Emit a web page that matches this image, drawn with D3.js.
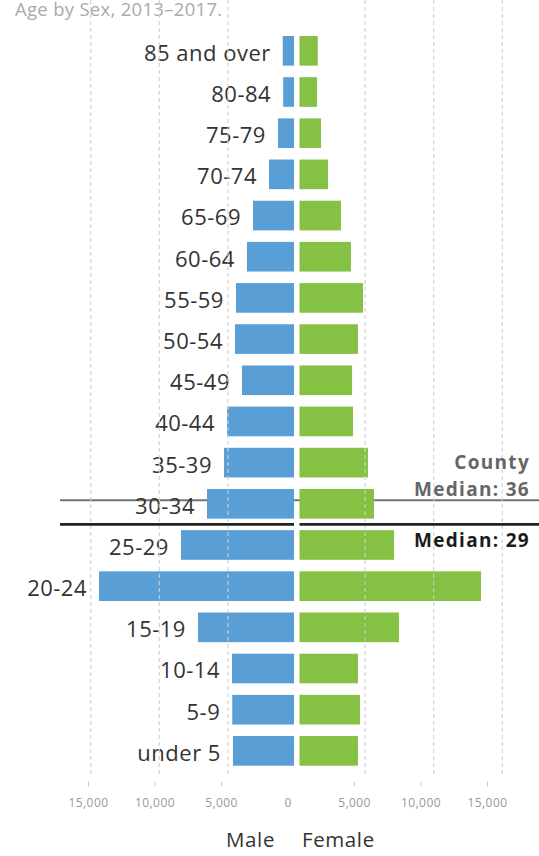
<!DOCTYPE html>
<html>
<head>
<meta charset="utf-8">
<script src="https://cdn.jsdelivr.net/npm/d3@7"></script>
<style>
  body { margin: 0; background: #fff; }
  svg { display: block; font-family: "Open Sans", sans-serif; }
</style>
</head>
<body>
<div id="chart"></div>
<script>
// Age groups, top to bottom
const ageGroups = ["85 and over", "80-84", "75-79", "70-74", "65-69", "60-64", "55-59",
  "50-54", "45-49", "40-44", "35-39", "30-34", "25-29", "20-24", "15-19",
  "10-14", "5-9", "under 5"];

const maleValues = [820, 790, 1170, 1820, 2990, 3430, 4230, 4300, 3790, 4880,
  5100, 6340, 8240, 14210, 7000, 4520, 4500, 4450];

const femaleValues = [1330, 1280, 1570, 2080, 3020, 3750, 4630, 4260, 3830, 3900,
  4990, 5430, 6890, 13230, 7250, 4260, 4410, 4260];

const tickValues = [-15000, -10000, -5000, 0, 5000, 10000, 15000];
const gridValues = [-15000, -10000, -5000, 5000, 10000, 15000];

const medianLabels = [["County", "Median: 36"], ["Median: 29"]];
const medianAges = [36, 29];

const sexLabels = ["Male", "Female"];
const titleText = "Age by Sex, 2013\u20132017.";

const width = 539, height = 856;
const blue = "#599fd6", green = "#85c142";

function pyramid(selector) {
  const svg = d3.select(selector)
    .append("svg")
      .attr("width", width)
      .attr("height", height);

  const data = ageGroups.map((g, i) => ({ group: g, male: maleValues[i], female: femaleValues[i] }));

  // rows
  const y = d3.scaleBand()
    .domain(ageGroups)
    .range([36, 765.7])
    .paddingInner(0.28)
    .paddingOuter(0);
  const gap = y.step() - y.bandwidth();

  // bars grow out from a small gap in the middle
  const xMale = d3.scaleLinear().domain([0, 15000]).range([294, 294 - 205.8]);
  const xFemale = d3.scaleLinear().domain([0, 15000]).range([299.5, 299.5 + 205.8]);
  const xGrid = d3.scaleLinear().domain([-15000, 15000]).range([90.7, 502.3]);
  const xAxisScale = d3.scaleLinear().domain([-15000, 15000]).range([88, 487]);

  // title, cropped at the top edge
  svg.append("text")
    .attr("x", 15)
    .attr("y", 16)
    .attr("fill", "#aaa")
    .style("font-size", "18.5px")
    .style("letter-spacing", "0.3px")
    .text(titleText);

  // median lines: where each sits, relative to the 30-34 row
  const medianPos = [0.414, 1.0];
  const medianY = medianPos.map(f => y("30-34") - gap / 2 + f * y.step());

  // county median, sits behind bars and labels
  svg.append("line")
    .attr("x1", 60).attr("x2", width)
    .attr("y1", medianY[0]).attr("y2", medianY[0])
    .attr("stroke", "#737373")
    .attr("stroke-width", 2);

  // age labels just left of the male bars
  svg.append("g")
    .selectAll("text")
    .data(data)
    .join("text")
      .attr("x", d => xMale(d.male) - 12)
      .attr("y", d => y(d.group) + y.bandwidth() / 2)
      .attr("dy", "0.45em")
      .attr("text-anchor", "end")
      .attr("fill", "#333")
      .style("font-size", "22px")
      .style("letter-spacing", "0.5px")
      .text(d => d.group);

  svg.append("g")
    .selectAll("rect")
    .data(data)
    .join("rect")
      .attr("x", d => xMale(d.male))
      .attr("y", d => y(d.group))
      .attr("width", d => xMale(0) - xMale(d.male))
      .attr("height", y.bandwidth())
      .attr("fill", blue);

  svg.append("g")
    .selectAll("rect")
    .data(data)
    .join("rect")
      .attr("x", xFemale(0))
      .attr("y", d => y(d.group))
      .attr("width", d => xFemale(d.female) - xFemale(0))
      .attr("height", y.bandwidth())
      .attr("fill", green);

  // dashed gridlines over the bars
  svg.append("g")
    .selectAll("line")
    .data(gridValues)
    .join("line")
      .attr("x1", d => xGrid(d)).attr("x2", d => xGrid(d))
      .attr("y1", 0).attr("y2", 776)
      .attr("stroke", "#cfcfcf")
      .attr("stroke-opacity", 0.85)
      .attr("stroke-width", 1.3)
      .attr("stroke-dasharray", "4,3");

  // city median, split at the centre gap
  svg.append("g")
    .selectAll("line")
    .data([[60, xMale(0)], [xFemale(0), width]])
    .join("line")
      .attr("x1", d => d[0]).attr("x2", d => d[1])
      .attr("y1", medianY[1]).attr("y2", medianY[1])
      .attr("stroke", "#222")
      .attr("stroke-width", 2.6);

  // median labels
  const county = svg.append("text")
    .attr("text-anchor", "end")
    .attr("fill", "#666")
    .style("font-size", "19px")
    .style("font-weight", 700)
    .style("letter-spacing", "1.3px");
  county.selectAll("tspan")
    .data(medianLabels[0])
    .join("tspan")
      .attr("x", 530)
      .attr("y", (d, i) => medianY[0] - 31 + i * 26.7)
      .text(d => d);

  svg.append("text")
    .attr("x", 530)
    .attr("y", medianY[1] + 22.4)
    .attr("text-anchor", "end")
    .attr("fill", "#1c1c1c")
    .style("font-size", "19px")
    .style("font-weight", 700)
    .style("letter-spacing", "1.3px")
    .text(medianLabels[1][0]);

  // bottom axis
  const axis = svg.append("g")
    .attr("transform", "translate(0,781.5)")
    .call(d3.axisBottom(xAxisScale)
      .tickValues(tickValues)
      .tickFormat(d => d3.format(",")(Math.abs(d)))
      .tickSize(5)
      .tickPadding(12));
  axis.select(".domain").remove();
  axis.selectAll(".tick line")
    .attr("stroke", "#ccc")
    .filter(d => d === 0).remove();
  axis.selectAll(".tick text")
    .attr("fill", "#999")
    .style("font-size", "12px")
    .style("letter-spacing", "0.4px")
    .style("font-family", "'Open Sans', sans-serif");

  // sex labels
  svg.append("g")
    .selectAll("text")
    .data(sexLabels)
    .join("text")
      .attr("x", (d, i) => i === 0 ? 275 : 302)
      .attr("y", 847)
      .attr("text-anchor", (d, i) => i === 0 ? "end" : "start")
      .attr("fill", "#333")
      .style("font-size", "20.5px")
      .style("letter-spacing", "0.6px")
      .text(d => d);
}

pyramid("#chart");
</script>
</body>
</html>
